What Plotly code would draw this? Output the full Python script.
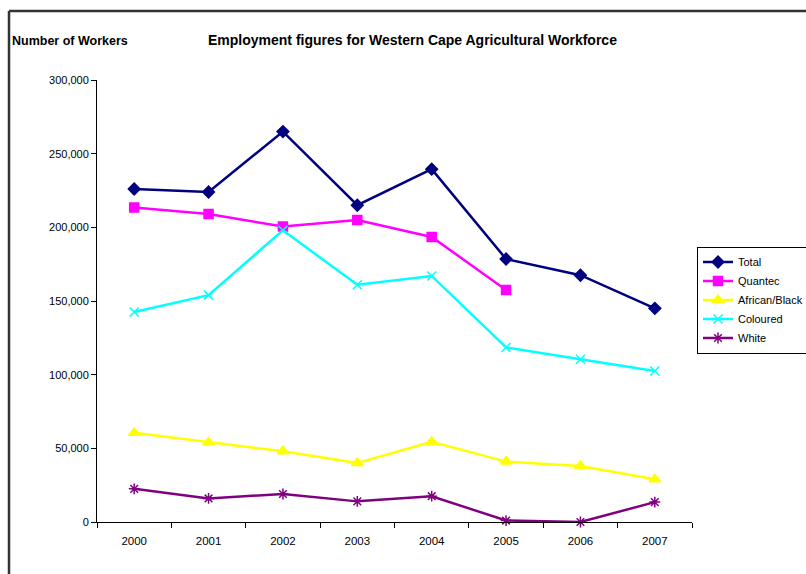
import plotly.graph_objects as go

years = ["2000", "2001", "2002", "2003", "2004", "2005", "2006", "2007"]
total = [226000, 224000, 265000, 215000, 239500, 178500, 167500, 145000]
quantec = [213500, 209000, 200500, 205000, 193500, 157500]
african_black = [60500, 54000, 48000, 40000, 54500, 41000, 38000, 29000]
coloured = [142500, 154000, 198000, 161000, 167000, 118500, 110500, 102500]
white = [22500, 16000, 19000, 14000, 17500, 1000, 0, 13500]

W, H = 806, 574
L, R, T, B = 97, 692, 80, 522
pw, ph = R - L, B - T

def px(x):
    return (x - L) / pw

def py(y):
    return (B - y) / ph

fig = go.Figure()
series = [
    ("Total", years, total, "#000080", "diamond", 9),
    ("Quantec", years[:len(quantec)], quantec, "#FF00FF", "square", 9),
    ("African/Black", years, african_black, "#FFFF00", "triangle-up", 10),
    ("Coloured", years, coloured, "#00FFFF", "x-thin-open", 9),
    ("White", years, white, "#800080", "asterisk-open", 9),
]
for name, xs, ys, col, sym, sz in series:
    fig.add_trace(go.Scatter(
        x=xs, y=ys, name=name, mode="lines+markers",
        line=dict(color=col, width=2.5),
        marker=dict(symbol=sym, size=sz, color=col, line=dict(color=col, width=1.5)),
        cliponaxis=False,
    ))

fig.update_layout(
    width=W, height=H, autosize=False,
    margin=dict(l=L, r=W - R, t=T, b=H - B, pad=0, autoexpand=False),
    paper_bgcolor="white", plot_bgcolor="white",
    font=dict(family="Liberation Sans, Arial, sans-serif", size=11, color="black"),
    showlegend=True,
    legend=dict(
        x=px(697), y=py(300), xanchor="left", yanchor="middle",
        bordercolor="black", borderwidth=1, bgcolor="white",
        font=dict(size=11, color="black"),
        itemwidth=30, tracegroupgap=0,
    ),
    xaxis=dict(
        type="category", range=[-0.5, 7.5], showgrid=False, zeroline=False,
        showline=True, linecolor="black", linewidth=1,
        ticks="outside", tickson="boundaries", ticklen=5, tickcolor="black",
        tickfont=dict(size=11.5), ticklabelstandoff=8,
    ),
    yaxis=dict(
        range=[0, 300000], tickvals=[0, 50000, 100000, 150000, 200000, 250000, 300000],
        tickformat=",d", showgrid=False, zeroline=False,
        showline=True, linecolor="black", linewidth=1,
        ticks="outside", ticklen=5, tickcolor="black",
        tickfont=dict(size=11),
    ),
    annotations=[
        dict(text="<b>Number of Workers</b>", xref="paper", yref="paper",
             x=px(10), y=py(41), xanchor="left", yanchor="middle",
             showarrow=False, font=dict(size=12.5, color="black")),
        dict(text="<b>Employment figures for Western Cape Agricultural Workforce</b>",
             xref="paper", yref="paper", x=px(412), y=py(40),
             xanchor="center", yanchor="middle", showarrow=False,
             font=dict(size=14, color="black")),
    ],
    shapes=[
        dict(type="line", xref="paper", yref="paper", x0=px(9), x1=px(9),
             y0=py(11), y1=py(600), line=dict(color="#333333", width=2.5)),
        dict(type="line", xref="paper", yref="paper", x0=px(9), x1=px(830),
             y0=py(11), y1=py(11), line=dict(color="#333333", width=2.5)),
    ],
)

post = (
    "document.body.style.margin='0';document.body.style.overflow='hidden';"
    "var gd=document.getElementById('{plot_id}');"
    "Plotly.relayout(gd,{width:806,height:574});"
)
fig.write_html("out.html", config={"responsive": False, "displayModeBar": False},
               post_script=post)
